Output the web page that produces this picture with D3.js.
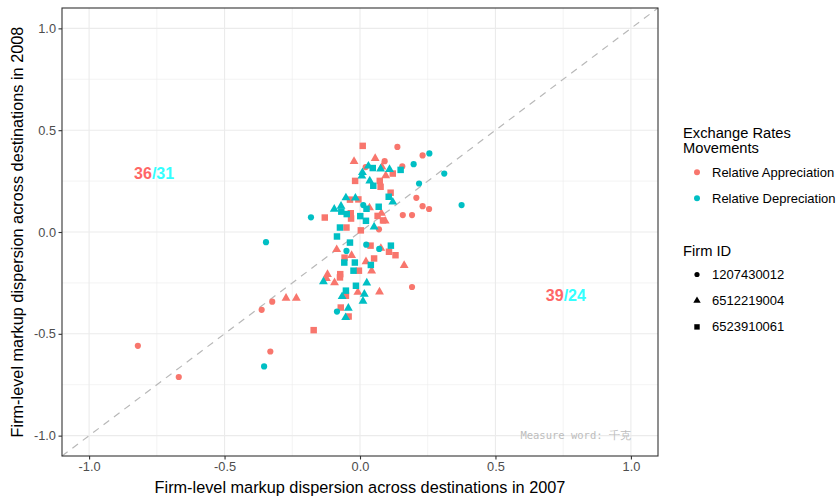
<!DOCTYPE html>
<html>
<head>
<meta charset="utf-8">
<script src="https://cdn.jsdelivr.net/npm/d3@7"></script>
<style>
  body { margin: 0; background: #fff; }
  text { font-family: "Liberation Sans", Arial, sans-serif; }
</style>
</head>
<body>
<div id="chart"></div>
<script>
// values
// movement: "A" = Relative Appreciation, "D" = Relative Depreciation
// firm: index into FIRM_IDS
const FIRM_IDS = ["1207430012", "6512219004", "6523910061"];
const MOVEMENTS = ["Relative Appreciation", "Relative Depreciation"];

const x2007 = [
  // appreciation, 1207430012
  -0.820, -0.669, -0.331, -0.363, -0.324, 0.138, 0.231, 0.091, 0.156, 0.021, 0.208, 0.231, 0.255, 0.158, 0.192, 0.070, 0.192,
  // appreciation, 6512219004
  -0.273, -0.235, -0.022, 0.056, 0.081, 0.095, 0.035, 0.079, 0.093, -0.086, 0.077, -0.031, 0.163, 0.022, 0.043, -0.120, -0.124, -0.094, -0.008, 0.072,
  // appreciation, 6523910061
  -0.171, -0.130, 0.010, 0.121, -0.018, 0.073, 0.076, 0.113, -0.037, -0.006, -0.034, -0.033, 0.065, 0.085, -0.050, 0.003, 0.039, 0.107, 0.131, -0.057, 0.052, -0.004, -0.073, -0.074, -0.052, -0.071, -0.042,
  // depreciation, 1207430012
  -0.354, -0.347, -0.181, 0.256, 0.198, 0.311, 0.218, 0.375, 0.012, 0.023, 0.071, -0.050, -0.085,
  // depreciation, 6512219004
  0.031, 0.009, 0.007, 0.076, 0.109, 0.036, 0.121, -0.095, -0.070, -0.052, -0.017, 0.052, -0.135, 0.025, -0.066, 0.016, 0.011, -0.043, -0.053,
  // depreciation, 6523910061
  0.150, 0.047, 0.049, 0.106, 0.024, 0.069, -0.069, -0.049, 0.001, 0.022, -0.074, -0.085, -0.037, 0.114, -0.058, -0.019, 0.040, -0.024, -0.015, -0.052
];

const y2008 = [
  -0.559, -0.712, -0.587, -0.382, -0.342, 0.418, 0.376, 0.348, 0.322, 0.319, 0.168, 0.127, 0.113, 0.083, 0.083, 0.013, -0.270,
  -0.325, -0.325, 0.347, 0.361, 0.320, 0.277, 0.119, 0.092, 0.054, -0.086, -0.080, -0.115, -0.164, -0.146, -0.191, -0.208, -0.228, -0.249, -0.296, -0.294,
  -0.482, 0.071, 0.423, 0.287, 0.251, 0.251, 0.222, 0.193, 0.159, 0.160, 0.092, 0.066, 0.079, 0.057, 0.022, 0.008, -0.067, -0.097, -0.114, -0.126, -0.130, -0.190, -0.207, -0.223, -0.313, -0.371, -0.415,
  -0.660, -0.050, 0.072, 0.386, 0.333, 0.287, 0.238, 0.132, 0.132, -0.062, -0.083, -0.093, -0.391,
  0.324, 0.292, 0.275, 0.310, 0.307, 0.251, 0.147, 0.112, 0.127, 0.168, 0.167, 0.025, -0.244, -0.250, -0.317, -0.305, -0.340, -0.374, -0.420,
  0.305, 0.314, 0.227, 0.173, 0.114, 0.124, 0.100, 0.088, 0.078, 0.055, 0.022, -0.022, -0.052, -0.067, -0.150, -0.150, -0.162, -0.190, -0.264, -0.288
];

const movement = [].concat(
  Array(17 + 20 + 27).fill("A"),
  Array(13 + 19 + 20).fill("D")
);
const firm = [].concat(
  Array(17).fill(0), Array(20).fill(1), Array(27).fill(2),
  Array(13).fill(0), Array(19).fill(1), Array(20).fill(2)
);

const X_TICKS = [-1.0, -0.5, 0.0, 0.5, 1.0];
const Y_TICKS = [-1.0, -0.5, 0.0, 0.5, 1.0];
const MINOR_TICKS = [-0.75, -0.25, 0.25, 0.75];

// counts above / below the 45 degree line
const COUNT_ABOVE = ["36", "31"];
const COUNT_BELOW = ["39", "24"];

const WIDTH = 839;
const HEIGHT = 496;
const PANEL = { left: 62, right: 658, top: 8, bottom: 456 };
const COLORS = { A: "#F8766D", D: "#00BFC4" };

const points = x2007.map((x, i) => ({ x, y: y2008[i], movement: movement[i], firm: firm[i] }));

const svg = d3.select("#chart")
  .append("svg")
  .attr("width", WIDTH)
  .attr("height", HEIGHT);

const xScale = d3.scaleLinear().domain([-1.1, 1.1]).range([PANEL.left, PANEL.right]);
const yScale = d3.scaleLinear().domain([-1.1, 1.1]).range([PANEL.bottom, PANEL.top]);

const shapes = [d3.symbolCircle, d3.symbolTriangle, d3.symbolSquare];
const shapeSizes = [30, 34, 42];

// grid
const grid = svg.append("g");
grid.selectAll(".minor-x")
  .data(MINOR_TICKS)
  .join("line")
  .attr("x1", d => xScale(d)).attr("x2", d => xScale(d))
  .attr("y1", PANEL.top).attr("y2", PANEL.bottom)
  .style("stroke", "#ebebeb").style("stroke-width", 0.6);
grid.selectAll(".minor-y")
  .data(MINOR_TICKS)
  .join("line")
  .attr("y1", d => yScale(d)).attr("y2", d => yScale(d))
  .attr("x1", PANEL.left).attr("x2", PANEL.right)
  .style("stroke", "#ebebeb").style("stroke-width", 0.6);
grid.selectAll(".major-x")
  .data(X_TICKS)
  .join("line")
  .attr("x1", d => xScale(d)).attr("x2", d => xScale(d))
  .attr("y1", PANEL.top).attr("y2", PANEL.bottom)
  .style("stroke", "#ebebeb").style("stroke-width", 1.1);
grid.selectAll(".major-y")
  .data(Y_TICKS)
  .join("line")
  .attr("y1", d => yScale(d)).attr("y2", d => yScale(d))
  .attr("x1", PANEL.left).attr("x2", PANEL.right)
  .style("stroke", "#ebebeb").style("stroke-width", 1.1);

// 45 degree line
svg.append("line")
  .attr("x1", xScale(-1.1)).attr("y1", yScale(-1.1))
  .attr("x2", xScale(1.1)).attr("y2", yScale(1.1))
  .style("stroke", "#b8b8b8")
  .style("stroke-width", 1.2)
  .style("stroke-dasharray", "7,6");

// points
svg.append("g")
  .selectAll("path")
  .data(points)
  .join("path")
  .attr("transform", d => `translate(${xScale(d.x)},${yScale(d.y)})`)
  .attr("d", d => d3.symbol(shapes[d.firm], shapeSizes[d.firm])())
  .style("fill", d => COLORS[d.movement]);

// count labels
const countLabel = (pos, counts) => {
  const t = svg.append("text")
    .attr("x", xScale(pos[0])).attr("y", yScale(pos[1]))
    .attr("text-anchor", "middle")
    .attr("dy", "0.36em")
    .style("font-size", "16px")
    .style("font-weight", "bold");
  t.append("tspan").style("fill", "#FF6666").text(counts[0]);
  t.append("tspan").style("fill", "#33FFFF").text("/" + counts[1]);
};
countLabel([-0.76, 0.29], COUNT_ABOVE);
countLabel([0.76, -0.31], COUNT_BELOW);

// watermark
svg.append("text")
  .attr("x", xScale(1.0)).attr("y", yScale(-1.0))
  .attr("text-anchor", "end")
  .attr("dy", "0.35em")
  .style("font-family", "'DejaVu Sans Mono', monospace")
  .style("font-size", "10.5px")
  .style("fill", "#bdbdbd")
  .text("Measure word: 千克");

// panel border
svg.append("rect")
  .attr("x", PANEL.left).attr("y", PANEL.top)
  .attr("width", PANEL.right - PANEL.left)
  .attr("height", PANEL.bottom - PANEL.top)
  .style("fill", "none")
  .style("stroke", "#333333")
  .style("stroke-width", 1.1);

// axes (plain hyphen for negatives, like the original)
const tickFmt = d => d.toFixed(1);
const xAxis = d3.axisBottom(xScale).tickValues(X_TICKS).tickFormat(tickFmt).tickSize(3.5).tickPadding(2.5);
const yAxis = d3.axisLeft(yScale).tickValues(Y_TICKS).tickFormat(tickFmt).tickSize(3.5).tickPadding(2.5);

const gx = svg.append("g").attr("transform", `translate(0,${PANEL.bottom})`).call(xAxis);
const gy = svg.append("g").attr("transform", `translate(${PANEL.left},0)`).call(yAxis);
[gx, gy].forEach(g => {
  g.select(".domain").remove();
  g.selectAll(".tick line").style("stroke", "#333333").style("stroke-width", 1.1);
  g.selectAll(".tick text")
    .style("fill", "#4d4d4d")
    .style("font-size", "12.8px")
    .style("font-family", "'Liberation Sans', Arial, sans-serif");
});

svg.append("text")
  .attr("x", (PANEL.left + PANEL.right) / 2)
  .attr("y", 493)
  .attr("text-anchor", "middle")
  .style("font-size", "16.3px")
  .text("Firm-level markup dispersion across destinations in 2007");

svg.append("text")
  .attr("transform", `translate(23,${(PANEL.top + PANEL.bottom) / 2}) rotate(-90)`)
  .attr("text-anchor", "middle")
  .style("font-size", "16.3px")
  .text("Firm-level markup dispersion across destinations in 2008");

// legends
const legend = svg.append("g").attr("transform", "translate(683,0)");
legend.append("text").attr("x", 0).attr("y", 137.5).style("font-size", "14.7px").text("Exchange Rates");
legend.append("text").attr("x", 0).attr("y", 153).style("font-size", "14.7px").text("Movements");

legend.selectAll(".mv")
  .data(MOVEMENTS)
  .join("g")
  .attr("transform", (d, i) => `translate(0,${172.3 + i * 26})`)
  .each(function (d, i) {
    const g = d3.select(this);
    g.append("path")
      .attr("transform", "translate(14,0)")
      .attr("d", d3.symbol(d3.symbolCircle, 28)())
      .style("fill", i === 0 ? COLORS.A : COLORS.D);
    g.append("text").attr("x", 29).attr("dy", "0.35em").style("font-size", "13px").text(d);
  });

legend.append("text").attr("x", 0).attr("y", 255.5).style("font-size", "14.7px").text("Firm ID");

legend.selectAll(".fm")
  .data(FIRM_IDS)
  .join("g")
  .attr("transform", (d, i) => `translate(0,${274.5 + i * 26.2})`)
  .each(function (d, i) {
    const g = d3.select(this);
    g.append("path")
      .attr("transform", "translate(14,0)")
      .attr("d", d3.symbol(shapes[i], shapeSizes[i] * 0.7)())
      .style("fill", "#000");
    g.append("text").attr("x", 29).attr("dy", "0.35em").style("font-size", "13px").text(d);
  });
</script>
</body>
</html>
